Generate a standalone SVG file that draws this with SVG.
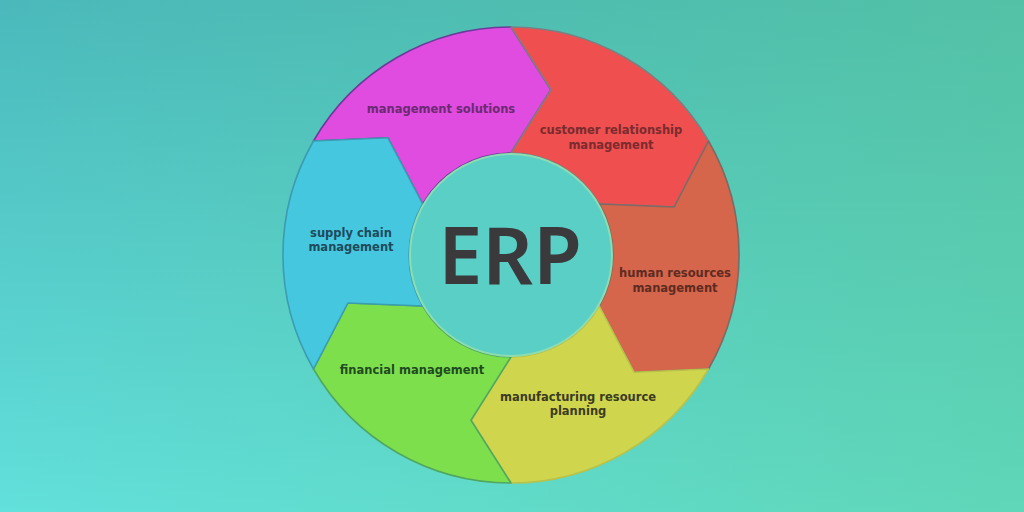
<svg xmlns="http://www.w3.org/2000/svg" width="1024" height="512" viewBox="0 0 1024 512">
  <defs>
    <linearGradient id="bgV" x1="0" y1="0" x2="0" y2="1">
      <stop offset="0" stop-color="#4BB9BB"/>
      <stop offset="1" stop-color="#62E0DB"/>
    </linearGradient>
    <linearGradient id="bgH" x1="0" y1="0" x2="1" y2="0">
      <stop offset="0" stop-color="#5CCB8C" stop-opacity="0"/>
      <stop offset="1" stop-color="#5CCB8C" stop-opacity="0.45"/>
    </linearGradient>
    <style>
      .seg { stroke-width: 1.6; stroke-linejoin: round; }
      .lbl { font-family: "DejaVu Sans", Verdana, sans-serif; font-weight: bold; font-size: 11.5px; text-anchor: middle; }
      .erp { font-family: "Noto Sans", "Open Sans", sans-serif; font-weight: 600; font-size: 79px; fill: #3A3A3C; text-anchor: middle; }
    </style>
  </defs>
  <rect width="1024" height="512" fill="url(#bgV)"/>
  <rect width="1024" height="512" fill="url(#bgH)"/>

  <g id="management-solutions">
    <path class="seg" d="M 313.5,141 A 228 228 0 0 1 511,27 L 551,89.8 L 511,153 A 102 102 0 0 0 422.7,204 L 387.9,137.8 Z" fill="#E04BE0" stroke="#6A3C9A"/>
    <text class="lbl" x="441" y="113" fill="#6B2A72">management solutions</text>
  </g>
  <g id="customer-relationship-management">
    <path class="seg" d="M 511,27 A 228 228 0 0 1 708.5,141 L 674.1,207 L 599.3,204 A 102 102 0 0 0 511,153 L 551,89.8 Z" fill="#EF4F4F" stroke="#7E7E82"/>
    <text class="lbl" x="611" y="134" fill="#7A2B2E">customer relationship</text>
    <text class="lbl" x="611" y="149" fill="#7A2B2E">management</text>
  </g>
  <g id="human-resources-management">
    <path class="seg" d="M 708.5,141 A 228 228 0 0 1 708.5,369 L 634.1,372.2 L 599.3,306 A 102 102 0 0 0 599.3,204 L 674.1,207 Z" fill="#D5654B" stroke="#7C6A66"/>
    <text class="lbl" x="675" y="277" fill="#5C2C22">human resources</text>
    <text class="lbl" x="675" y="292" fill="#5C2C22">management</text>
  </g>
  <g id="manufacturing-resource-planning">
    <path class="seg" d="M 708.5,369 A 228 228 0 0 1 511,483 L 471,420.2 L 511,357 A 102 102 0 0 0 599.3,306 L 634.1,372.2 Z" fill="#CFD64E" stroke="#B8C24A"/>
    <text class="lbl" x="578" y="401" fill="#3B3B22">manufacturing resource</text>
    <text class="lbl" x="578" y="415" fill="#3B3B22">planning</text>
  </g>
  <g id="financial-management">
    <path class="seg" d="M 511,483 A 228 228 0 0 1 313.5,369 L 347.9,303 L 422.7,306 A 102 102 0 0 0 511,357 L 471,420.2 Z" fill="#7EDF4D" stroke="#4FA860"/>
    <text class="lbl" x="412" y="374" fill="#1F4A22">financial management</text>
  </g>
  <g id="supply-chain-management">
    <path class="seg" d="M 313.5,369 A 228 228 0 0 1 313.5,141 L 387.9,137.8 L 422.7,204 A 102 102 0 0 0 422.7,306 L 347.9,303 Z" fill="#45C8DF" stroke="#3B9CB0"/>
    <text class="lbl" x="351" y="237" fill="#1F4A5C">supply chain</text>
    <text class="lbl" x="351" y="251" fill="#1F4A5C">management</text>
  </g>

  <g id="erp-center">
    <circle cx="511" cy="255" r="101" fill="#5ACFC6" stroke="#8EDDB0" stroke-width="2"/>
    <text class="erp" x="510" y="284">ERP</text>
  </g>

  <g id="connectors"></g>
</svg>
